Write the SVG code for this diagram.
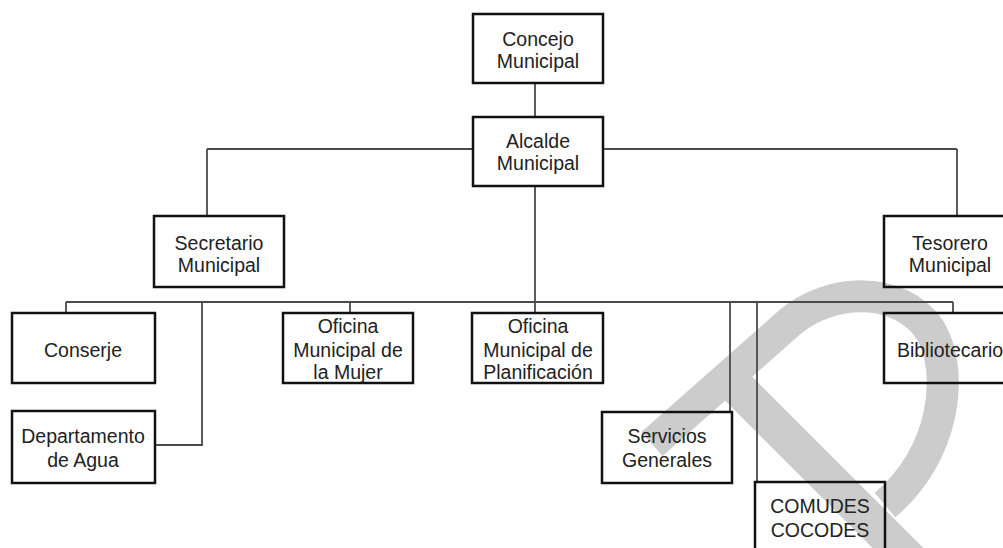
<svg xmlns="http://www.w3.org/2000/svg" width="1003" height="548" viewBox="0 0 1003 548">
<style>
.box{fill:none;stroke:#111;stroke-width:2.5}
.t{font-family:"Liberation Sans",Arial,sans-serif;font-size:19.5px;fill:#222;text-anchor:middle}
.c{stroke:#4a4a4a;stroke-width:1.8;fill:none}
.wm{stroke:#cccccc;fill:none;stroke-linecap:butt;stroke-linejoin:round}
</style>
<rect width="1003" height="548" fill="#ffffff"/>
<g id="watermark">
<path class="wm" stroke-width="32" d="M652 444 L790 322 C830 288 900 285 930 330 C955 372 945 455 885 505"/>
<path class="wm" stroke-width="36" d="M735 385 L965 615"/>
</g>
<g id="connectors">
<line class="c" x1="535" y1="83" x2="535" y2="117"/>
<line class="c" x1="207" y1="149" x2="473" y2="149"/>
<line class="c" x1="603" y1="149" x2="957" y2="149"/>
<line class="c" x1="207" y1="149" x2="207" y2="216"/>
<line class="c" x1="957" y1="149" x2="957" y2="216"/>
<line class="c" x1="535" y1="186" x2="535" y2="313"/>
<line class="c" x1="66" y1="302" x2="953" y2="302"/>
<line class="c" x1="66" y1="302" x2="66" y2="313"/>
<polyline class="c" points="202,302 202,445 155,445"/>
<line class="c" x1="350" y1="302" x2="350" y2="313"/>
<line class="c" x1="730" y1="302" x2="730" y2="412"/>
<line class="c" x1="757" y1="302" x2="757" y2="482"/>
<line class="c" x1="953" y1="302" x2="953" y2="313"/>
</g>
<g id="concejo">
<rect class="box" x="473" y="14" width="130" height="69"/>
<text class="t" x="538" y="46">Concejo</text>
<text class="t" x="538" y="68">Municipal</text>
</g>
<g id="alcalde">
<rect class="box" x="473" y="117" width="130" height="69"/>
<text class="t" x="538" y="148">Alcalde</text>
<text class="t" x="538" y="170">Municipal</text>
</g>
<g id="secretario">
<rect class="box" x="154" y="216" width="130" height="71"/>
<text class="t" x="219" y="250">Secretario</text>
<text class="t" x="219" y="272">Municipal</text>
</g>
<g id="tesorero">
<rect class="box" x="884" y="216" width="132" height="71"/>
<text class="t" x="950" y="250">Tesorero</text>
<text class="t" x="950" y="272">Municipal</text>
</g>
<g id="conserje">
<rect class="box" x="12" y="313" width="143" height="70"/>
<text class="t" x="83" y="357">Conserje</text>
</g>
<g id="departamento">
<rect class="box" x="12" y="411" width="143" height="72"/>
<text class="t" x="83" y="443">Departamento</text>
<text class="t" x="83" y="467">de Agua</text>
</g>
<g id="oficina-mujer">
<rect class="box" x="283" y="313" width="130" height="70"/>
<text class="t" x="348" y="333">Oficina</text>
<text class="t" x="348" y="357">Municipal de</text>
<text class="t" x="348" y="379">la Mujer</text>
</g>
<g id="oficina-planificacion">
<rect class="box" x="472" y="313" width="131" height="70"/>
<text class="t" x="538" y="333">Oficina</text>
<text class="t" x="538" y="357">Municipal de</text>
<text class="t" x="538" y="379">Planificación</text>
</g>
<g id="bibliotecario">
<rect class="box" x="884" y="313" width="132" height="70"/>
<text class="t" x="950" y="357">Bibliotecario</text>
</g>
<g id="servicios">
<rect class="box" x="602" y="412" width="130" height="71"/>
<text class="t" x="667" y="443">Servicios</text>
<text class="t" x="667" y="467">Generales</text>
</g>
<g id="comudes">
<rect class="box" x="755" y="482" width="130" height="80"/>
<text class="t" x="820" y="513">COMUDES</text>
<text class="t" x="820" y="537">COCODES</text>
</g>
</svg>
